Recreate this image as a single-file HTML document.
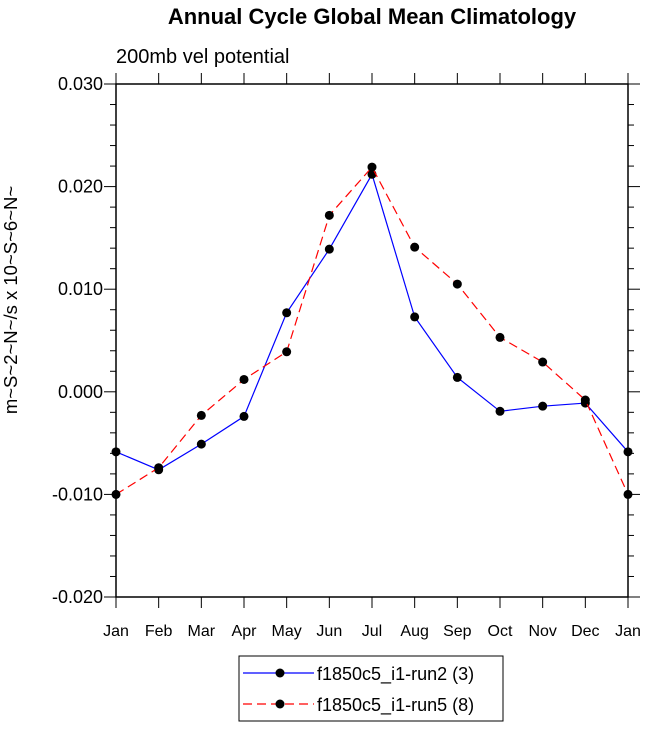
<!DOCTYPE html>
<html><head><meta charset="utf-8"><style>body{margin:0;background:#fff}svg{display:block;font-family:"Liberation Sans",sans-serif}</style></head>
<body>
<svg id="c" width="647" height="731" viewBox="0 0 647 731">
<text x="372" y="24" text-anchor="middle" font-size="22" font-weight="bold">Annual Cycle Global Mean Climatology</text>
<text x="116" y="63" font-size="20">200mb vel potential</text>
<text transform="translate(17,300) rotate(-90)" text-anchor="middle" font-size="18.5">m~S~2~N~/s x 10~S~6~N~</text>
<g id="axes"></g><g id="series"></g>
<g>
<rect x="239" y="656" width="264" height="65" fill="#fff" stroke="#000" stroke-width="1"/>
<g><line x1="243" y1="673" x2="314" y2="673" stroke="#0000ff" stroke-width="1.2"/><circle cx="280" cy="673" r="4.5"/><text x="317" y="680" font-size="18">f1850c5_i1-run2 (3)</text></g>
<g><line x1="243" y1="704" x2="314" y2="704" stroke="#ff0000" stroke-width="1.2" stroke-dasharray="9,5"/><circle cx="280" cy="704" r="4.5"/><text x="317" y="711" font-size="18">f1850c5_i1-run5 (8)</text></g>
</g>
</svg>
<script>
const months=["Jan","Feb","Mar","Apr","May","Jun","Jul","Aug","Sep","Oct","Nov","Dec","Jan"];
const run2=[-0.00585,-0.0076,-0.0051,-0.0024,0.0077,0.0139,0.0212,0.0073,0.0014,-0.0019,-0.0014,-0.0011,-0.00585];
const run5=[-0.010,-0.0074,-0.0023,0.0012,0.0039,0.0172,0.0219,0.0141,0.0105,0.0053,0.0029,-0.0008,-0.010];
const yTicks=[0.030,0.020,0.010,0.000,-0.010,-0.020];
const yTickLabels=["0.030","0.020","0.010","0.000","-0.010","-0.020"];
const L=116,R=628,T=84,B=597,ymin=-0.02,ymax=0.03;
const xs=i=>L+i*(R-L)/12;
const ys=v=>B-(v-ymin)/(ymax-ymin)*(B-T);
const NS="http://www.w3.org/2000/svg";
function mk(t,a,p){const e=document.createElementNS(NS,t);for(const k in a)e.setAttribute(k,a[k]);p.appendChild(e);return e;}
const ax=document.getElementById('axes');
const fr=mk('rect',{x:L,y:T,width:R-L,height:B-T,fill:'none',stroke:'#000','stroke-width':1.5},ax);


for(let k=0;k<=25;k++){const v=ymin+k*0.002,y=ys(v),len=(k%5==0)?12:6;
mk('line',{x1:L-len,y1:y,x2:L,y2:y,stroke:'#000','stroke-width':1},ax);
mk('line',{x1:R,y1:y,x2:R+len,y2:y,stroke:'#000','stroke-width':1},ax);}
yTicks.forEach((v,i)=>{const t=mk('text',{x:L-13,y:ys(v)+6,'text-anchor':'end','font-size':18},ax);t.textContent=yTickLabels[i];

});
months.forEach((m,i)=>{const x=xs(i);
mk('line',{x1:x,y1:B,x2:x,y2:B+11,stroke:'#000','stroke-width':1},ax);
mk('line',{x1:x,y1:T,x2:x,y2:T-11,stroke:'#000','stroke-width':1},ax);
const t=mk('text',{x:x,y:B+39,'text-anchor':'middle','font-size':16},ax);t.textContent=m;

});
const sg=document.getElementById('series');
function series(d,color,dash,name){const g=mk('g',{},sg);


const a={points:d.map((v,i)=>xs(i)+','+ys(v)).join(' '),fill:'none',stroke:color,'stroke-width':1.2};if(dash)a['stroke-dasharray']=dash;
mk('polyline',a,g);
d.forEach((v,i)=>{const c=mk('circle',{cx:xs(i),cy:ys(v),r:4.5,fill:'#000'},g);

});}
series(run2,'#0000ff',null,'series-run2');
series(run5,'#ff0000','9,5','series-run5');
</script>
</body></html>
